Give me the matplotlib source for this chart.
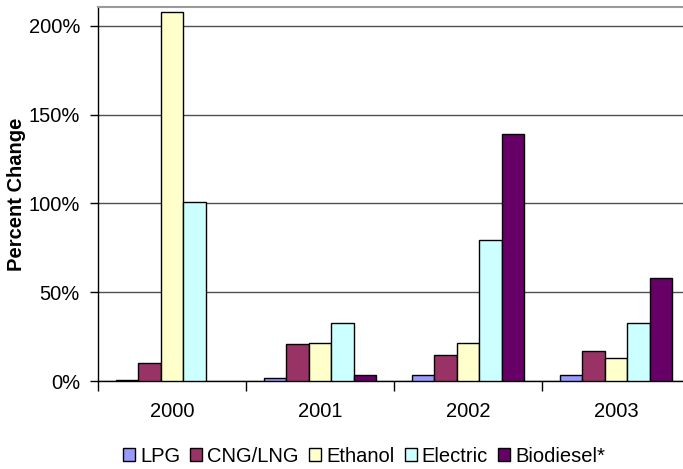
import numpy as np
import matplotlib
matplotlib.use("Agg")
import matplotlib.pyplot as plt
from matplotlib.ticker import FuncFormatter

years = ["2000", "2001", "2002", "2003"]
fuels = ["LPG", "CNG/LNG", "Ethanol", "Electric", "Biodiesel*"]

# percent change by fuel, one value per year
lpg = [0.8, 1.7, 3.4, 3.4]
cng = [10.3, 20.7, 14.6, 16.7]
ethanol = [208.0, 21.4, 21.6, 12.8]
electric = [101.0, 32.5, 79.4, 32.5]
biodiesel = [np.nan, 3.6, 139.0, 57.9]

colors = ["#9999FF", "#993366", "#FFFFCC", "#CCFFFF", "#660066"]

plt.rcParams['font.family'] = ['Liberation Sans', 'DejaVu Sans']
fs = 14.5

fig = plt.figure(figsize=(6.83, 4.69), dpi=100)
W, H = 683.0, 469.0
ax = fig.add_axes([98 / W, (H - 381) / H, (690 - 98) / W, (381 - 7) / H])

series = [lpg, cng, ethanol, electric, biodiesel]
x = np.arange(len(years))
w = 22.5 / 148
for j, (vals, c, name) in enumerate(zip(series, colors, fuels)):
    ax.bar(x + (j - 2) * w, vals, w, color=c, edgecolor="black", linewidth=1.0,
           label=name, zorder=3)

ax.set_xlim(-0.5, len(years) - 0.5)
ax.set_ylim(0, 210.7)
ax.set_yticks([0, 50, 100, 150, 200])
ax.yaxis.set_major_formatter(FuncFormatter(lambda v, p: "%d%%" % v))
ax.grid(axis="y", color="#505050", linewidth=1.0, zorder=0)

# category ticks sit between the groups
ax.set_xticks(np.arange(-0.5, len(years) + 0.5, 1.0))
ax.set_xticklabels([])
ax.set_xticks(x, minor=True)
ax.set_xticklabels(years, minor=True, fontsize=fs)
ax.tick_params(axis="x", which="major", length=7, width=1, direction="out")
ax.tick_params(axis="x", which="minor", length=0, pad=15)
ax.tick_params(axis="y", length=6, width=1, labelsize=fs, pad=7)

ax.spines["right"].set_visible(False)
ax.spines["top"].set_color("#9a9a9a")
ax.spines["top"].set_linewidth(1.5)
ax.spines["left"].set_linewidth(1.0)
ax.spines["bottom"].set_linewidth(1.0)

ax.set_ylabel("Percent Change", fontsize=fs, fontweight="bold")
ax.yaxis.set_label_coords(-0.122, 0.5)

handles, labels = ax.get_legend_handles_labels()
fig.legend(handles, labels, loc="center", bbox_to_anchor=(364 / W, 1 - 456 / H),
           ncol=5, frameon=False, fontsize=fs, handlelength=0.6, handleheight=0.6,
           handletextpad=0.25, columnspacing=0.5)

fig.savefig("out.png", dpi=100)
